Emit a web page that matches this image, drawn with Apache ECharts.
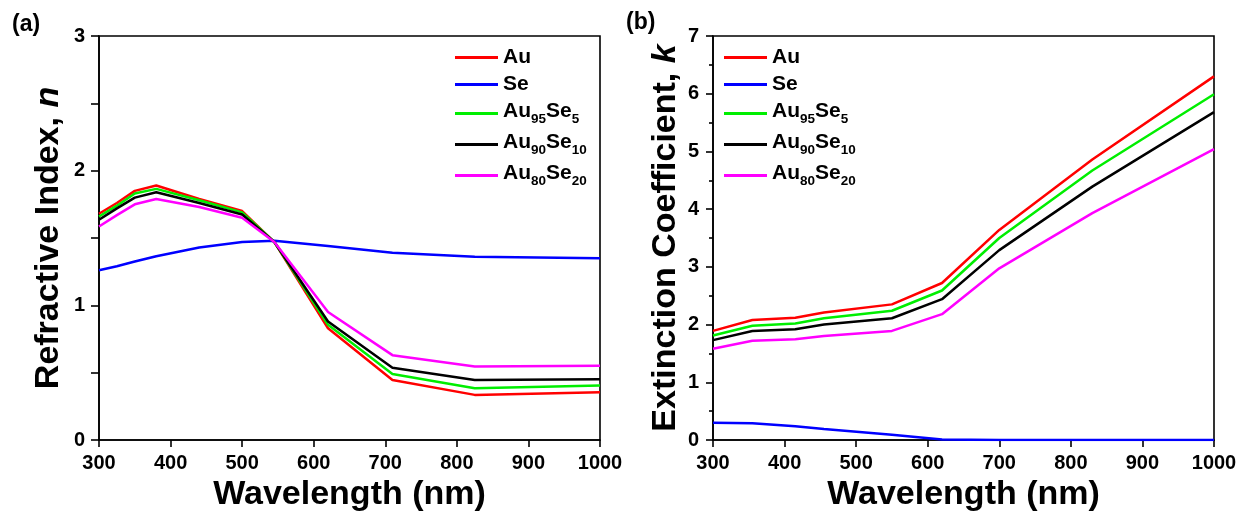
<!DOCTYPE html>
<html>
<head>
<meta charset="utf-8">
<script src="https://cdn.jsdelivr.net/npm/echarts@6/dist/echarts.min.js"></script>
<style>
html,body{margin:0;padding:0;background:#fff;}
#chart{width:1247px;height:518px;}
</style>
</head>
<body>
<div id="chart"></div>
<script>
// ---- Data ----
var seriesNames = ['Au', 'Se', 'Au95Se5', 'Au90Se10', 'Au80Se20'];
var seriesColors = ['#ff0000', '#0000ff', '#00ee00', '#000000', '#ff00ff'];

// Panel (a): refractive index n
var wavelengthA = [300, 325, 350, 380, 440, 500, 545, 620, 710, 825, 1000];
var nAu       = [1.68, 1.76, 1.85, 1.89, 1.79, 1.70, 1.47, 0.83, 0.445, 0.335, 0.354];
var nSe       = [1.26, 1.29, 1.325, 1.365, 1.43, 1.47, 1.48, 1.44, 1.39, 1.36, 1.35];
var nAu95Se5  = [1.66, 1.74, 1.83, 1.865, 1.78, 1.69, 1.47, 0.855, 0.49, 0.385, 0.404];
var nAu90Se10 = [1.635, 1.72, 1.80, 1.84, 1.76, 1.675, 1.47, 0.88, 0.537, 0.446, 0.451];
var nAu80Se20 = [1.585, 1.67, 1.75, 1.79, 1.73, 1.65, 1.47, 0.95, 0.63, 0.545, 0.552];

// Panel (b): extinction coefficient k
var wavelengthB = [300, 355, 415, 455, 550, 620, 700, 830, 1000];
var kAu       = [1.89, 2.08, 2.12, 2.21, 2.35, 2.72, 3.64, 4.86, 6.30];
var kSe       = [0.30, 0.29, 0.24, 0.19, 0.09, 0.01, 0.0, 0.0, 0.0];
var kAu95Se5  = [1.81, 1.98, 2.02, 2.11, 2.24, 2.59, 3.50, 4.67, 5.99];
var kAu90Se10 = [1.73, 1.89, 1.92, 2.00, 2.11, 2.44, 3.29, 4.39, 5.68];
var kAu80Se20 = [1.58, 1.72, 1.745, 1.80, 1.89, 2.18, 2.975, 3.93, 5.04];

var xTicks = [300, 400, 500, 600, 700, 800, 900, 1000];
var nTicks = [0, 1, 2, 3];
var kTicks = [0, 1, 2, 3, 4, 5, 6, 7];

var legendLabels = {
  'Au': 'Au',
  'Se': 'Se',
  'Au95Se5': '{p|Au}{s|95}{p|Se}{s|5}',
  'Au90Se10': '{p|Au}{s|90}{p|Se}{s|10}',
  'Au80Se20': '{p|Au}{s|80}{p|Se}{s|20}'
};

// ---- Build ----
var FONT = '"Liberation Sans", Arial, sans-serif';
function pairs(xs, ys) { return xs.map(function (x, i) { return [x, ys[i]]; }); }

var dataA = [nAu, nSe, nAu95Se5, nAu90Se10, nAu80Se20];
var dataB = [kAu, kSe, kAu95Se5, kAu90Se10, kAu80Se20];

var series = [];
seriesNames.forEach(function (name, i) {
  series.push({
    name: name, type: 'line', xAxisIndex: 0, yAxisIndex: 0,
    data: pairs(wavelengthA, dataA[i]), symbol: 'none', smooth: false,
    lineStyle: { color: seriesColors[i], width: 2.5 }, itemStyle: { color: seriesColors[i] },
    animation: false
  });
});
seriesNames.forEach(function (name, i) {
  series.push({
    name: name, type: 'line', xAxisIndex: 1, yAxisIndex: 1,
    data: pairs(wavelengthB, dataB[i]), symbol: 'none', smooth: false,
    lineStyle: { color: seriesColors[i], width: 2.5 }, itemStyle: { color: seriesColors[i] },
    animation: false
  });
});

var axisLineStyle = { color: '#000', width: 1.6 };
function xAxis(grid) {
  return {
    gridIndex: grid, type: 'value', min: xTicks[0], max: xTicks[xTicks.length - 1], interval: xTicks[1] - xTicks[0],
    axisLine: { show: true, onZero: false, lineStyle: axisLineStyle },
    axisTick: { show: true, length: 7, inside: false, lineStyle: axisLineStyle },
    axisLabel: { fontSize: 20, fontWeight: 'bold', color: '#000', margin: 13, fontFamily: FONT,
      formatter: function (v) { return String(v); } },
    splitLine: { show: false },
    name: 'Wavelength (nm)', nameLocation: 'middle', nameGap: 35,
    nameTextStyle: { fontSize: 34, fontWeight: 'bold', color: '#000', fontFamily: FONT }
  };
}
function yAxis(grid, ticks, name, gap, tickLen, minorLen) {
  return {
    gridIndex: grid, type: 'value', min: ticks[0], max: ticks[ticks.length - 1], interval: ticks[1] - ticks[0],
    axisLine: { show: true, onZero: false, lineStyle: axisLineStyle },
    axisTick: { show: true, length: tickLen, inside: false, lineStyle: axisLineStyle },
    minorTick: { show: true, splitNumber: 2, length: minorLen, lineStyle: axisLineStyle },
    axisLabel: { fontSize: 20, fontWeight: 'bold', color: '#000', margin: 14, fontFamily: FONT,
      formatter: function (v) { return String(v); } },
    splitLine: { show: false },
    name: name, nameLocation: 'middle', nameGap: gap, nameRotate: 90,
    nameTextStyle: {
      fontSize: 34, fontWeight: 'bold', color: '#000', fontFamily: FONT,
      rich: { i: { fontSize: 34, fontWeight: 'bold', fontStyle: 'italic', color: '#000', fontFamily: FONT } }
    }
  };
}
function legend(left) {
  return {
    data: seriesNames, orient: 'vertical', left: left, top: 47, padding: 0,
    itemGap: 6, itemWidth: 43, itemHeight: 3, icon: 'rect',
    selectedMode: false,
    formatter: function (name) { return legendLabels[name]; },
    textStyle: {
      fontSize: 21, fontWeight: 'bold', color: '#000', fontFamily: FONT,
      rich: {
        p: { fontSize: 21, fontWeight: 'bold', color: '#000', fontFamily: FONT, padding: [0, 0, 4, 0], verticalAlign: 'bottom' },
        s: { fontSize: 13.5, fontWeight: 'bold', color: '#000', fontFamily: FONT, verticalAlign: 'bottom' }
      }
    }
  };
}

var option = {
  backgroundColor: '#fff',
  animation: false,
  title: [
    { text: '(a)', left: 12, top: 13, padding: 0, textStyle: { fontSize: 23, fontWeight: 'bold', color: '#000', fontFamily: FONT } },
    { text: '(b)', left: 626, top: 11, padding: 0, textStyle: { fontSize: 23, fontWeight: 'bold', color: '#000', fontFamily: FONT } }
  ],
  grid: [
    { left: 99, width: 501, top: 36, bottom: 78, show: true, borderColor: '#000', borderWidth: 1.6, backgroundColor: 'transparent' },
    { left: 713, width: 501, top: 36, bottom: 78, show: true, borderColor: '#000', borderWidth: 1.6, backgroundColor: 'transparent' }
  ],
  legend: [legend(455), legend(724)],
  xAxis: [xAxis(0), xAxis(1)],
  yAxis: [
    yAxis(0, nTicks, 'Refractive Index, {i|n}', 33, 8, 8),
    yAxis(1, kTicks, 'Extinction Coefficient, {i|k}', 30, 7, 4)
  ],
  series: series
};

var chart = echarts.init(document.getElementById('chart'), null, { renderer: 'canvas' });
chart.setOption(option);
</script>
</body>
</html>
